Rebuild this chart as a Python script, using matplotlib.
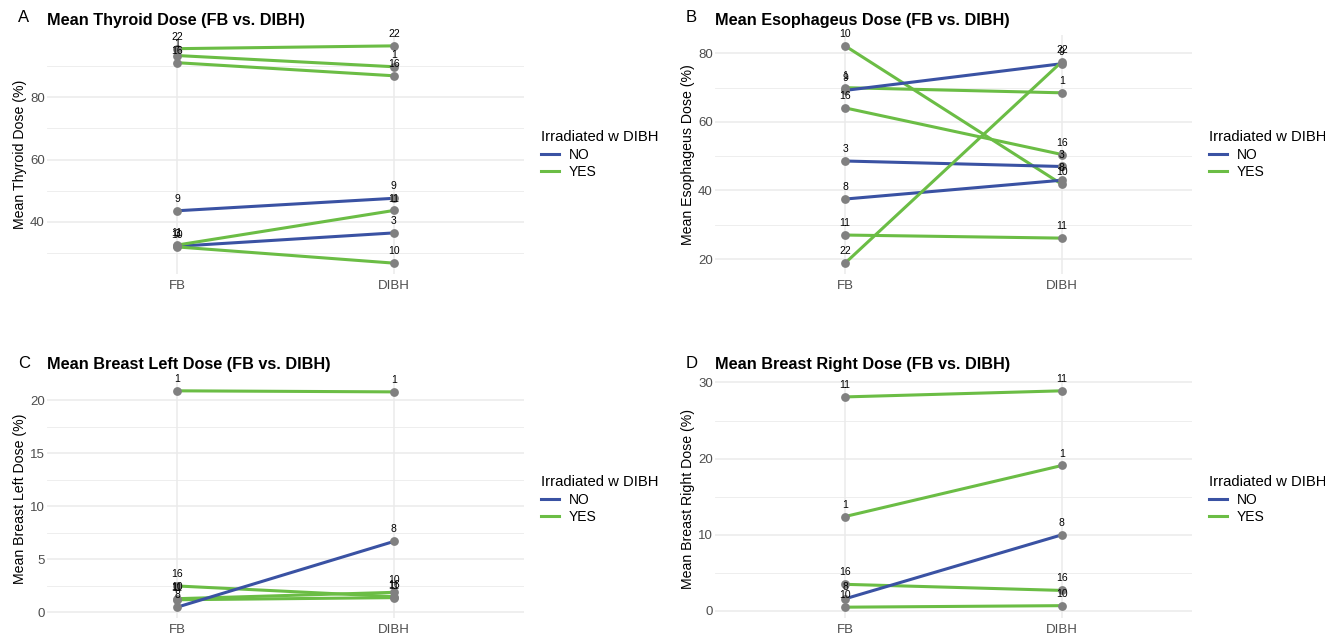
import matplotlib
matplotlib.use("Agg")
import matplotlib.pyplot as plt
from matplotlib.lines import Line2D
from matplotlib.ticker import MultipleLocator

plt.rcParams['font.family'] = ['Liberation Sans', 'DejaVu Sans']

W, H = 1325, 633
BLUE = "#3A52A3"
GREEN = "#6BBD45"
POINT = "#808080"

conditions = ["FB", "DIBH"]
no_group = [3, 8, 9]  # irradiated w DIBH = NO

# Thyroid
thy_patients = [22, 1, 16, 9, 3, 10, 11]
thy_fb = [95.6, 93.4, 91.1, 43.6, 32.2, 32.0, 32.6]
thy_dibh = [96.5, 89.8, 86.9, 47.6, 36.5, 26.8, 43.7]

# Esophageus
eso_patients = [10, 1, 9, 16, 3, 8, 11, 22]
eso_fb = [82.2, 70.0, 69.2, 64.1, 48.6, 37.5, 27.0, 18.8]
eso_dibh = [41.8, 68.5, 77.0, 50.5, 47.0, 43.0, 26.1, 77.6]

# Breast left
bl_patients = [1, 16, 10, 11, 8]
bl_fb = [20.9, 2.5, 1.3, 1.2, 0.5]
bl_dibh = [20.8, 1.5, 1.9, 1.4, 6.7]

# Breast right
br_patients = [11, 1, 16, 8, 10]
br_fb = [28.1, 12.4, 3.5, 1.6, 0.5]
br_dibh = [28.9, 19.1, 2.7, 10.0, 0.7]

panels = [
    dict(tag="A", title="Mean Thyroid Dose (FB vs. DIBH)", ylabel="Mean Thyroid Dose (%)",
         pats=thy_patients, fb=thy_fb, dibh=thy_dibh, major=20, minor=10,
         box=(47, 35, 524, 274)),
    dict(tag="B", title="Mean Esophageus Dose (FB vs. DIBH)", ylabel="Mean Esophageus Dose (%)",
         pats=eso_patients, fb=eso_fb, dibh=eso_dibh, major=20, minor=10,
         box=(715, 35, 1192, 274)),
    dict(tag="C", title="Mean Breast Left Dose (FB vs. DIBH)", ylabel="Mean Breast Left Dose (%)",
         pats=bl_patients, fb=bl_fb, dibh=bl_dibh, major=5, minor=2.5,
         box=(47, 380, 524, 618)),
    dict(tag="D", title="Mean Breast Right Dose (FB vs. DIBH)", ylabel="Mean Breast Right Dose (%)",
         pats=br_patients, fb=br_fb, dibh=br_dibh, major=10, minor=5,
         box=(715, 380, 1192, 618)),
]

fig = plt.figure(figsize=(W / 100, H / 100), dpi=100)

for p in panels:
    x0, y0, x1, y1 = p["box"]
    ax = fig.add_axes([x0 / W, 1 - y1 / H, (x1 - x0) / W, (y1 - y0) / H])
    allv = p["fb"] + p["dibh"]
    lo, hi = min(allv), max(allv)
    r = hi - lo
    ax.set_ylim(lo - 0.05 * r, hi + 0.05 * r)
    ax.set_xlim(-0.6, 1.6)
    ax.set_xticks([0, 1])
    ax.set_xticklabels(conditions)
    ax.yaxis.set_major_locator(MultipleLocator(p["major"]))
    ax.yaxis.set_minor_locator(MultipleLocator(p["minor"]))
    ax.grid(True, which="major", color="#EBEBEB", lw=1.1)
    ax.grid(True, which="minor", axis="y", color="#EBEBEB", lw=0.6)
    ax.set_axisbelow(True)
    for s in ax.spines.values():
        s.set_visible(False)
    ax.tick_params(which="both", length=0, labelsize=9.5, labelcolor="#4D4D4D")
    ax.tick_params(axis="y", pad=1.5)
    ax.tick_params(axis="x", pad=4)
    ax.set_ylabel(p["ylabel"], fontsize=10.2, labelpad=2)

    for pid, a, b in zip(p["pats"], p["fb"], p["dibh"]):
        col = BLUE if pid in no_group else GREEN
        ax.plot([0, 1], [a, b], color=col, lw=2.2, zorder=2, solid_capstyle="butt")
    for pid, a, b in zip(p["pats"], p["fb"], p["dibh"]):
        ax.scatter([0, 1], [a, b], s=40, color=POINT, zorder=3, linewidths=0)
        for xx, yy in ((0, a), (1, b)):
            ax.annotate(str(pid), (xx, yy), xytext=(0, 5), textcoords="offset points",
                        ha="center", va="bottom", fontsize=7.5, color="black", zorder=4)

    fig.text(x0 / W, 1 - 20 / H if y0 < 100 else 1 - 365 / H, p["title"],
             fontsize=11.7, fontweight="bold", ha="left", va="center")
    fig.text((x0 - 29) / W, 1 - 18 / H if y0 < 100 else 1 - 364 / H, p["tag"],
             fontsize=12, ha="left", va="center")

    handles = [Line2D([], [], color=BLUE, lw=2.2), Line2D([], [], color=GREEN, lw=2.2)]
    leg = fig.legend(handles, ["NO", "YES"], title="Irradiated w DIBH",
                     loc="upper left",
                     bbox_to_anchor=((x1 + 17) / W, 1 - (y0 + 95) / H),
                     frameon=False, fontsize=10, title_fontsize=10.7,
                     handlelength=1.3, handletextpad=0.7, labelspacing=0.2,
                     borderaxespad=0, borderpad=0, alignment="left")
    leg._legend_box.sep = 3

fig.savefig("out.png", dpi=100)
